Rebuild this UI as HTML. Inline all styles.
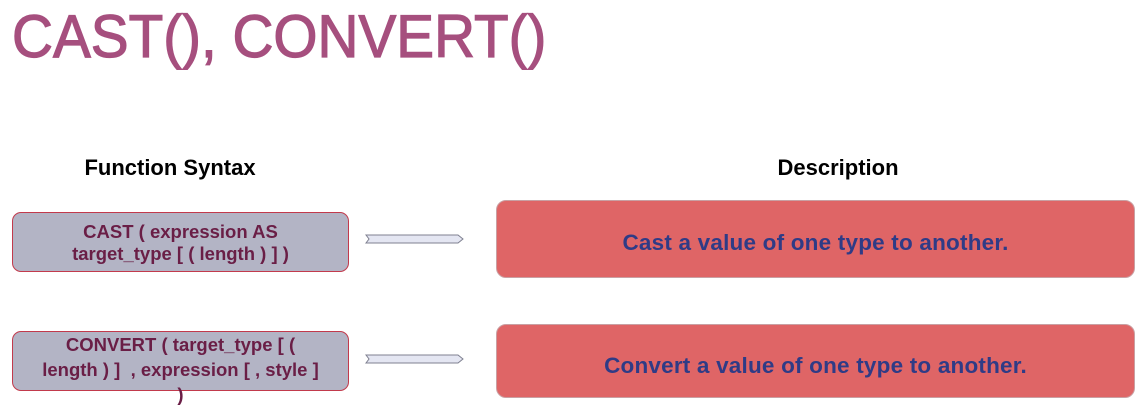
<!DOCTYPE html>
<html><head><style>
body{margin:0;width:1144px;height:418px;background:#fff;position:relative;overflow:hidden;font-family:"Liberation Sans",sans-serif}
.a{position:absolute}
.title{left:12px;top:2px;font-size:60px;color:#a64f7e;line-height:70px;transform:scaleX(0.945);transform-origin:0 0;-webkit-text-stroke:1.2px #a64f7e}
.h{font-weight:bold;font-size:22px;color:#000;width:320px;text-align:center;line-height:26px}
.l{left:12px;width:337px;height:60px;background:#b3b4c5;border:1.5px solid #c23a4c;border-radius:9px;color:#6a1e46;font-size:18.5px;font-weight:bold;line-height:22px;text-align:center;box-sizing:border-box}
.r{left:496px;width:639px;background:#df6566;border:1px solid #c9a0a3;border-radius:10px;color:#2f3b86;font-size:22.5px;font-weight:bold;letter-spacing:0.2px;display:flex;align-items:center;justify-content:center;box-sizing:border-box}
</style></head><body>
<div class="a title">CAST(), CONVERT()</div>
<div class="a h" style="left:10px;top:155px">Function Syntax</div>
<div class="a h" style="left:678px;top:155px">Description</div>
<div class="a l" style="top:212px;padding-top:8px">CAST ( expression AS<br>target_type [ ( length ) ] )</div>
<div class="a l" style="top:331px;padding-top:-2px;overflow:visible;line-height:25px;white-space:nowrap">CONVERT ( target_type [ (<br>length ) ]&nbsp; , expression [ , style ]<br>)</div>
<svg class="a" style="left:360px;top:228px" width="110" height="150">
<path d="M6,7 H98 L103,11 L98,15 H6 L9,11 Z" fill="#e4e6f2" stroke="#7f8090" stroke-width="1"/>
<path d="M6,127 H98 L103,131 L98,135 H6 L9,131 Z" fill="#e4e6f2" stroke="#7f8090" stroke-width="1"/>
</svg>
<div class="a r" style="top:200px;height:78px;padding-top:8px">Cast a value of one type to another.</div>
<div class="a r" style="top:324px;height:74px;padding-top:10px">Convert a value of one type to another.</div>
</body></html>
